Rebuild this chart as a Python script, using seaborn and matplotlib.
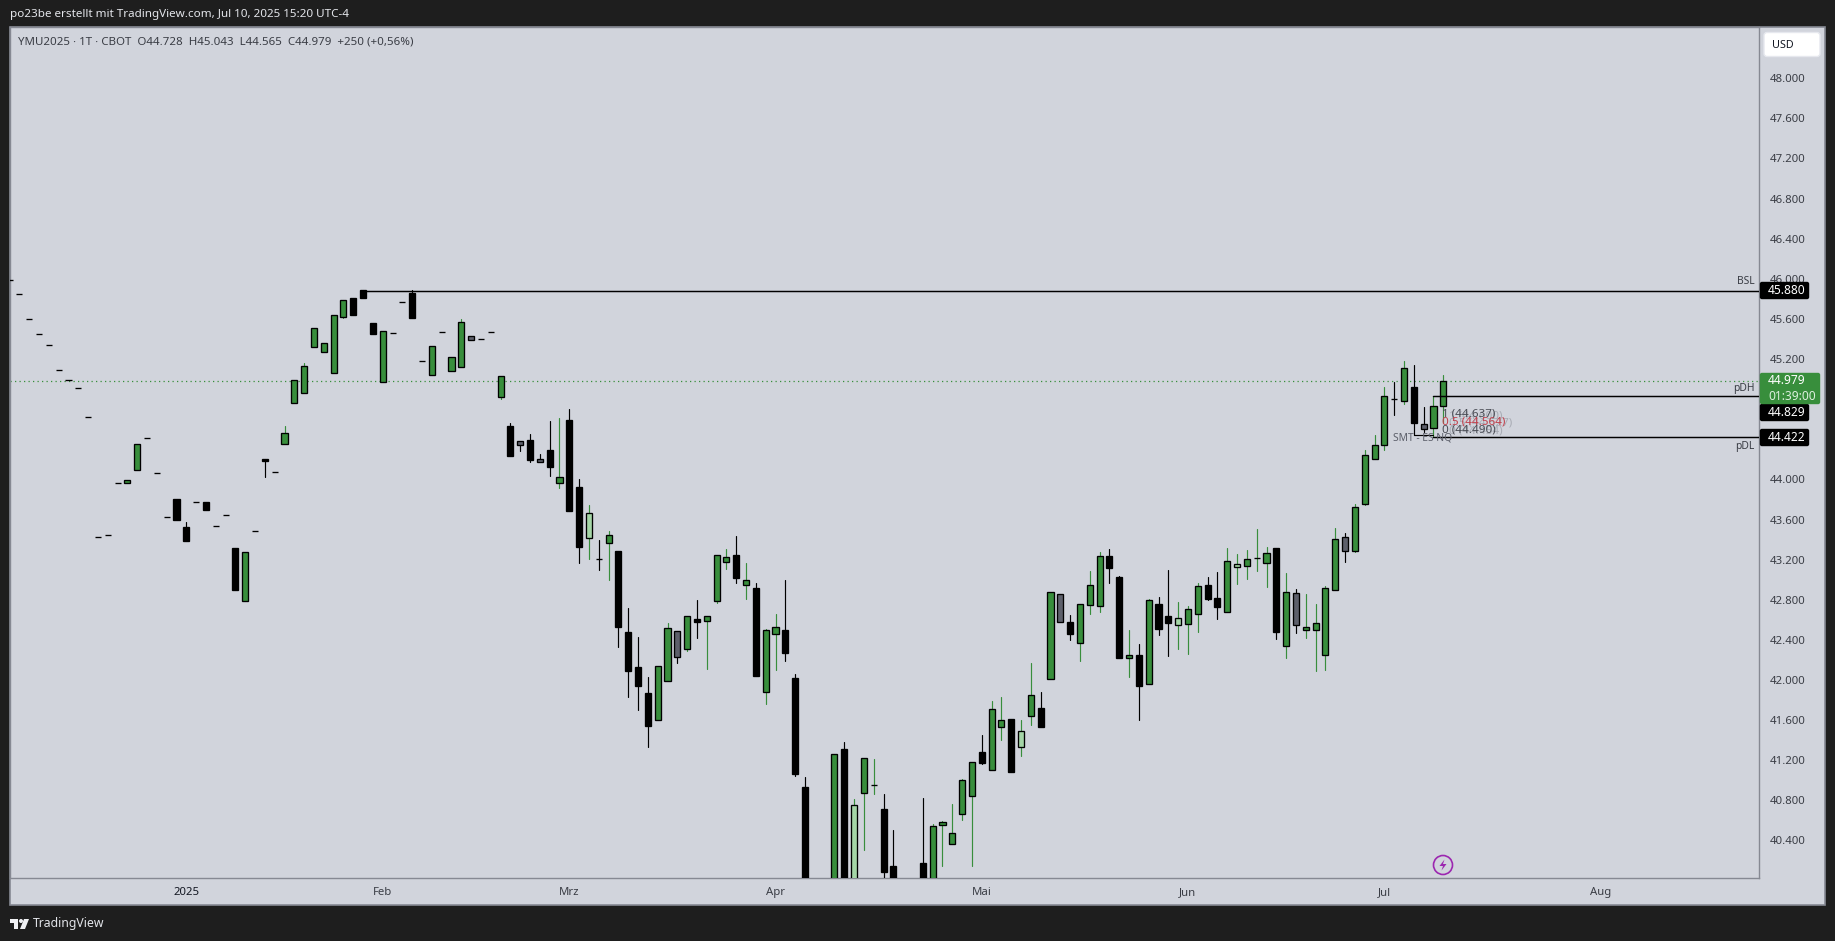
import numpy as np
import pandas as pd
import matplotlib
matplotlib.use("Agg")
import matplotlib.pyplot as plt
from matplotlib.patches import Rectangle, Circle, Polygon, FancyBboxPatch
from matplotlib.transforms import Affine2D
import seaborn as sns

# daily bars, first one sits just at the left edge
kinds = list(
    "kkkkkkkkkk" "kkggkkkkkk" "kkkkgkkkgg" "gggggkkkgk" "kkkgkggskk"
    "gkskskgkkl" "kgkkkkggsg" "kgggkgkggk" "kkkkgklggk" "kkkkgggggk"
    "ggklgkgskg" "ggkkgkgkkl" "ggkkglgggk" "gsggggsggg" "gkgksgg"
)
opens = [
    45.985, 45.845, 45.596, 45.446, 45.337, 45.087, 44.988, 44.908, 44.619, 43.422,
    43.442, 43.961, 43.967, 44.097, 44.409, 44.060, 43.622, 43.805, 43.525, 43.771,
    43.775, 43.532, 43.642, 43.316, 42.791, 43.482, 44.203, 44.070, 44.356, 44.765,
    44.865, 45.323, 45.273, 45.064, 45.622, 45.808, 45.885, 45.559, 44.968, 45.456,
    45.765, 45.858, 45.177, 45.044, 45.466, 45.084, 45.124, 45.426, 45.396, 45.466,
    44.825, 44.532, 44.379, 44.393, 44.200, 44.293, 43.967, 44.592, 43.924, 43.419,
    43.203, 43.369, 43.286, 42.478, 42.129, 41.870, 41.604, 41.993, 42.485, 42.312,
    42.608, 42.591, 42.790, 43.179, 43.246, 42.950, 42.917, 41.883, 42.461, 42.498,
    42.019, 40.933, 39.700, 39.600, 39.600, 41.311, 39.600, 40.876, 40.949, 40.713,
    40.145, 39.800, 39.700, 40.175, 39.600, 40.557, 40.367, 40.667, 40.846, 41.282,
    41.105, 41.534, 41.610, 41.335, 41.644, 41.717, 42.013, 42.853, 42.578, 42.372,
    42.750, 42.741, 43.236, 43.026, 42.222, 42.249, 41.963, 42.754, 42.634, 42.551,
    42.561, 42.661, 42.943, 42.814, 42.681, 43.129, 43.139, 43.212, 43.169, 43.315,
    42.342, 42.863, 42.501, 42.501, 42.252, 42.900, 43.422, 43.289, 43.757, 44.199,
    44.345, 44.804, 44.784, 44.920, 44.552, 44.508, 44.728,
]
highs = [
    45.985, 45.845, 45.596, 45.446, 45.337, 45.087, 44.988, 44.908, 44.619, 43.422,
    43.442, 43.961, 43.994, 44.349, 44.409, 44.060, 43.622, 43.805, 43.575, 43.771,
    43.775, 43.532, 43.642, 43.316, 43.273, 43.482, 44.203, 44.070, 44.532, 44.988,
    45.160, 45.506, 45.356, 45.636, 45.785, 45.808, 45.885, 45.559, 45.476, 45.456,
    45.765, 45.885, 45.177, 45.327, 45.466, 45.217, 45.599, 45.426, 45.396, 45.466,
    45.027, 44.562, 44.379, 44.452, 44.253, 44.582, 44.612, 44.702, 44.004, 43.745,
    43.396, 43.485, 43.286, 42.717, 42.428, 42.029, 42.136, 42.568, 42.485, 42.634,
    42.797, 42.634, 43.242, 43.305, 43.435, 43.166, 42.966, 42.505, 42.657, 42.996,
    42.059, 41.032, 39.800, 39.700, 41.258, 41.381, 40.813, 41.218, 41.212, 40.863,
    40.504, 39.900, 39.800, 40.823, 40.560, 40.594, 40.763, 41.012, 41.179, 41.451,
    41.790, 41.830, 41.610, 41.601, 42.169, 41.880, 42.873, 42.853, 42.647, 42.754,
    43.086, 43.276, 43.305, 43.036, 42.498, 42.358, 42.807, 42.827, 43.096, 42.777,
    42.737, 42.966, 43.026, 43.076, 43.315, 43.256, 43.295, 43.505, 43.325, 43.315,
    43.066, 42.907, 42.857, 42.757, 42.937, 43.515, 43.465, 43.751, 44.289, 44.439,
    44.920, 44.970, 45.180, 45.140, 44.721, 44.831, 45.043,
]
lows = [
    45.985, 45.845, 45.596, 45.446, 45.337, 45.087, 44.988, 44.908, 44.619, 43.422,
    43.442, 43.961, 43.967, 44.097, 44.409, 44.060, 43.622, 43.595, 43.386, 43.771,
    43.695, 43.532, 43.642, 42.897, 42.791, 43.482, 44.024, 44.070, 44.356, 44.765,
    44.865, 45.323, 45.273, 45.064, 45.612, 45.639, 45.808, 45.450, 44.968, 45.456,
    45.765, 45.609, 45.177, 45.044, 45.466, 45.084, 45.124, 45.393, 45.396, 45.466,
    44.805, 44.233, 44.283, 44.173, 44.177, 44.034, 43.914, 43.685, 43.166, 43.206,
    43.097, 42.997, 42.328, 41.830, 41.700, 41.331, 41.604, 41.993, 42.169, 42.289,
    42.418, 42.109, 42.767, 43.106, 42.966, 42.807, 42.039, 41.760, 42.099, 42.189,
    41.042, 39.500, 39.400, 39.300, 39.500, 39.500, 39.500, 40.304, 40.863, 39.900,
    39.600, 39.400, 39.400, 39.600, 39.500, 40.148, 40.367, 40.604, 40.148, 41.162,
    41.105, 41.401, 41.082, 41.242, 41.551, 41.534, 42.013, 42.581, 42.398, 42.189,
    42.657, 42.677, 42.966, 42.219, 42.029, 41.601, 41.963, 42.448, 42.239, 42.308,
    42.259, 42.478, 42.797, 42.608, 42.681, 42.957, 43.006, 43.086, 42.927, 42.408,
    42.219, 42.468, 42.418, 42.089, 42.099, 42.900, 43.176, 43.279, 43.744, 44.199,
    44.292, 44.645, 44.754, 44.442, 44.475, 44.425, 44.565,
]
closes = [
    45.985, 45.845, 45.596, 45.446, 45.337, 45.087, 44.988, 44.908, 44.619, 43.422,
    43.442, 43.961, 43.994, 44.349, 44.409, 44.060, 43.622, 43.595, 43.386, 43.771,
    43.695, 43.532, 43.642, 42.897, 43.273, 43.482, 44.183, 44.070, 44.459, 44.988,
    45.127, 45.506, 45.356, 45.636, 45.785, 45.639, 45.808, 45.450, 45.476, 45.456,
    45.765, 45.609, 45.177, 45.327, 45.466, 45.217, 45.566, 45.393, 45.396, 45.466,
    45.027, 44.233, 44.346, 44.193, 44.177, 44.123, 44.020, 43.685, 43.326, 43.662,
    43.203, 43.442, 42.528, 42.089, 41.940, 41.541, 42.136, 42.514, 42.232, 42.634,
    42.581, 42.634, 43.242, 43.222, 43.016, 42.993, 42.039, 42.495, 42.525, 42.269,
    41.062, 39.700, 39.500, 39.400, 41.258, 39.600, 40.750, 41.218, 40.949, 40.085,
    39.700, 39.600, 39.500, 39.800, 40.540, 40.580, 40.471, 40.999, 41.179, 41.172,
    41.707, 41.597, 41.082, 41.488, 41.847, 41.534, 42.873, 42.581, 42.458, 42.754,
    42.943, 43.232, 43.116, 42.219, 42.245, 41.939, 42.794, 42.508, 42.568, 42.614,
    42.704, 42.933, 42.807, 42.727, 43.182, 43.152, 43.202, 43.212, 43.262, 42.478,
    42.873, 42.551, 42.524, 42.564, 42.913, 43.402, 43.289, 43.721, 44.239, 44.339,
    44.827, 44.804, 45.107, 44.565, 44.505, 44.728, 44.979,
]

price_ticks = [40.4, 40.8, 41.2, 41.6, 42.0, 42.4, 42.8, 43.2, 43.6, 44.0,
               44.4, 44.8, 45.2, 45.6, 46.0, 46.4, 46.8, 47.2, 47.6, 48.0]
month_labels = ["2025", "Feb", "Mrz", "Apr", "Mai", "Jun", "Jul", "Aug"]
month_bars = [17, 37, 56, 77, 98, 119, 139, 161]

level_names = ["BSL", "pDH", "pDL"]
level_prices = [45.880, 44.829, 44.422]
level_start = [35, 144, 144]
last_price = 44.979
smt_price = 44.442
smt_bars = [142, 144]

# colours
BG = "#d1d4dc"
DARK = "#1e1e1e"
BORDER = "#868993"
TXT = "#3a3d45"
GREEN = "#388e3c"
body_col = {"g": GREEN, "k": "#000000", "s": "#5d606b", "l": "#a5d6a7"}
wick_col = {"g": GREEN, "k": "#000000", "s": "#000000", "l": GREEN}

sns.set_theme(style="white")
plt.rcParams["font.family"] = ["Noto Sans", "DejaVu Sans"]
FS = 8.2

W, H = 1835, 941
fig = plt.figure(figsize=(W / 100, H / 100), dpi=100, facecolor=DARK)
# pixel coordinates from the top left, for the TradingView frame
PX = Affine2D().scale(1, -1).translate(0, H)

ax_l, ax_r, ax_t, ax_b = 10, 1759, 27, 878
ax = fig.add_axes([ax_l / W, 1 - ax_b / H, (ax_r - ax_l) / W, (ax_b - ax_t) / H], facecolor=BG)

# frame behind the axes, the time and price strips use the same colour
fig.add_artist(Rectangle((ax_l, ax_t), 1825 - ax_l, 905 - ax_t, transform=PX, facecolor=BG,
                         edgecolor=BORDER, linewidth=1.2, zorder=-1))

bars = np.arange(len(opens)) - 1
df = pd.DataFrame({"bar": bars, "kind": kinds, "o": opens, "h": highs, "l": lows, "c": closes})

# wicks as one short line per bar
wicks = df.melt(id_vars=["bar", "kind"], value_vars=["h", "l"], value_name="price")
wicks["col"] = wicks["kind"].map(wick_col)
sns.lineplot(data=wicks, x="bar", y="price", units="bar", estimator=None, hue="col",
             palette={c: c for c in wicks["col"].unique()}, linewidth=0.85, legend=False,
             ax=ax, zorder=3)

ax.bar(df["bar"], df["c"] - df["o"], bottom=df["o"], width=0.62,
       color=df["kind"].map(body_col), edgecolor="black", linewidth=0.95, zorder=4)

# levels
x_left, x_right = -0.957, 177.15
for name, price, start in zip(level_names, level_prices, level_start):
    ax.plot([start, x_right], [price, price], color="black", linewidth=1.05, zorder=5)
ax.plot([x_left, x_right], [last_price, last_price], color=GREEN, linewidth=0.9,
        linestyle=(0, (1, 2.6)), zorder=2)
ax.plot(smt_bars, [smt_price, smt_price], color="black", linewidth=0.85, zorder=5)

ax.set_xlim(x_left, x_right)
ax.set_ylim(40.026, 48.510)
ax.set_xlabel("")
ax.set_ylabel("")

ax.yaxis.tick_right()
ax.set_yticks(price_ticks)
ax.set_yticklabels([f"{p:.3f}" for p in price_ticks])
ax.set_xticks(month_bars)
ax.set_xticklabels(month_labels)
ax.tick_params(axis="y", length=0, pad=7.5, labelsize=FS, labelcolor=TXT)
ax.tick_params(axis="x", length=0, pad=6.5, labelsize=FS, labelcolor=TXT)
ax.get_xticklabels()[0].set_fontweight("bold")
ax.get_xticklabels()[0].set_color("#131722")
for spine in ax.spines.values():
    spine.set_color(BORDER)
    spine.set_linewidth(1.0)

# level names
ax.text(1746, 282, "BSL", transform=PX, ha="center", va="center", fontsize=7.4, color=TXT)
ax.text(1744, 388, "pDH", transform=PX, ha="center", va="center", fontsize=7.4, color=TXT)
ax.text(1745, 446, "pDL", transform=PX, ha="center", va="center", fontsize=7.4, color=TXT)

# fib labels with the fainter older ones behind
ghost = "#a9acb5"
FIB = 8.4
ax.text(1449, 416, "1 (44.600)", transform=PX, va="center", fontsize=FIB, color=ghost, zorder=5)
ax.text(1449, 423, "0.5 (44.527)", transform=PX, va="center", fontsize=FIB, color=ghost, zorder=5)
ax.text(1449, 431, "0 (44.454)", transform=PX, va="center", fontsize=FIB, color=ghost, zorder=5)
ax.text(1442, 414, "1 (44.637)", transform=PX, va="center", fontsize=FIB, color="#4a4d55", zorder=6)
ax.text(1442, 422, "0.5 (44.564)", transform=PX, va="center", fontsize=FIB, color="#c2404c", zorder=7)
ax.text(1442, 430, "0 (44.490)", transform=PX, va="center", fontsize=FIB, color="#4a4d55", zorder=6)
ax.text(1423, 438.5, "SMT - ES NQ", transform=PX, ha="center", va="center", fontsize=7.4,
        color="#5d606b", zorder=6)

# price tags on the scale, 44.829 is pushed down by the live price tag
tag_ys = [290.5, 412.5, 437.5]
for y, price in zip(tag_ys, level_prices):
    fig.add_artist(FancyBboxPatch((1760.5, y - 8), 48, 16, boxstyle="round,pad=0,rounding_size=1.5",
                                  transform=PX, facecolor="black", edgecolor="black", linewidth=1, zorder=5))
    fig.text(1768, y, f"{price:.3f}", transform=PX, va="center", fontsize=FS + 0.4, color="white",
             fontweight="bold", zorder=6)
fig.add_artist(FancyBboxPatch((1760.5, 373.5), 59, 30, boxstyle="round,pad=0,rounding_size=1.5",
                              transform=PX, facecolor=GREEN, edgecolor=GREEN, linewidth=1, zorder=5))
fig.text(1768, 381, f"{last_price:.3f}", transform=PX, va="center", fontsize=FS + 0.4, color="white",
         fontweight="bold", zorder=6)
fig.text(1768, 396, "01:39:00", transform=PX, va="center", fontsize=FS + 0.4, color="#dcefdd", zorder=6)

# USD button
fig.add_artist(FancyBboxPatch((1764, 32.5), 56, 24, boxstyle="round,pad=0,rounding_size=3", transform=PX,
                              facecolor="white", edgecolor="#e6e8ee", linewidth=1, zorder=5))
fig.text(1772, 45, "USD", transform=PX, va="center", fontsize=FS - 0.4, color="#131722", zorder=6)

# lightning badge
fig.add_artist(Circle((1443, 865), 9.5, transform=PX, facecolor=BG, edgecolor="#9c27b0",
                      linewidth=1.2, zorder=5))
fig.add_artist(Polygon([(1444.5, 859.5), (1439.5, 866), (1443, 866), (1441.5, 870.5), (1446.5, 864),
                        (1443, 864)], transform=PX, facecolor="#9c27b0", edgecolor="none", zorder=6))

# header, legend line and footer
fig.text(10, 15, "po23be erstellt mit TradingView.com, Jul 10, 2025 15:20 UTC-4", transform=PX,
         va="center", fontsize=FS + 0.2, color="#e3e5ea")
fig.text(18, 41.5, "YMU2025 · 1T · CBOT  O44.728  H45.043  L44.565  C44.979  +250 (+0,56%)",
         transform=PX, va="center", fontsize=FS + 0.1, color=TXT, zorder=6)
fig.text(33, 923, "TradingView", transform=PX, va="center", fontsize=FS + 0.6, color="#e3e5ea")
logo = "#f0f1f4"
fig.add_artist(Polygon([(10, 919), (18, 919), (18, 929), (14, 929), (14, 923), (10, 923)],
                       transform=PX, facecolor=logo, edgecolor="none"))
fig.add_artist(Circle((21, 921), 2, transform=PX, facecolor=logo, edgecolor="none"))
fig.add_artist(Polygon([(24, 919), (29, 919), (25, 929), (20, 929)], transform=PX,
                       facecolor=logo, edgecolor="none"))

fig.savefig("out.png", dpi=100, facecolor=DARK)
